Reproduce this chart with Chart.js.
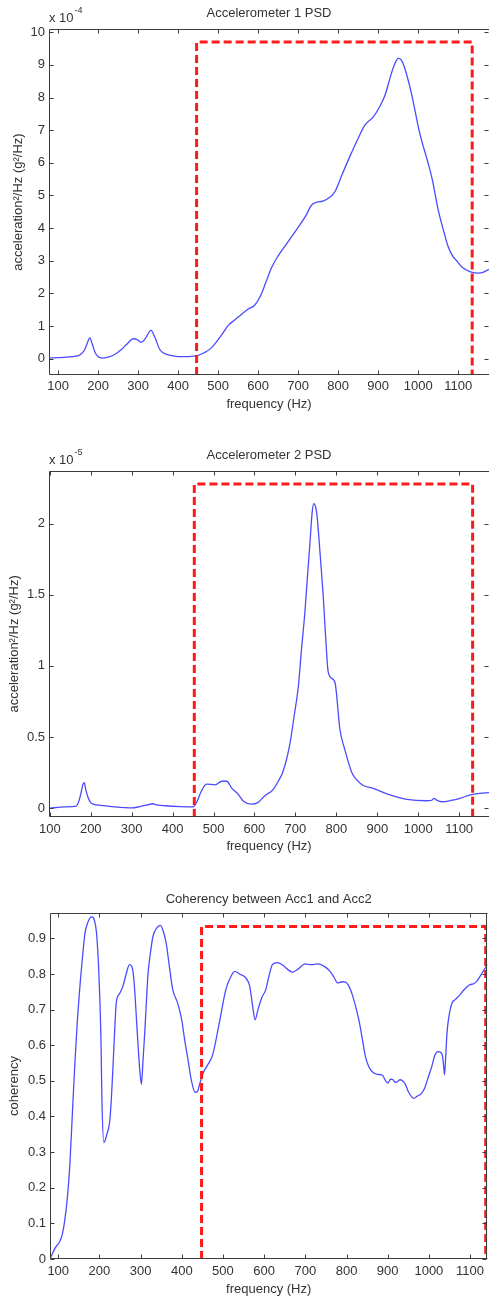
<!DOCTYPE html>
<html><head><meta charset="utf-8">
<script src="https://cdn.jsdelivr.net/npm/chart.js@4.4.1/dist/chart.umd.min.js"></script>
<style>
html,body{margin:0;padding:0;background:#fff;width:489px;height:1298px;overflow:hidden;}
canvas{position:absolute;left:0;}
</style></head><body>
<canvas id="c1" width="489" height="412" style="top:0px"></canvas>
<canvas id="c2" width="489" height="430" style="top:425px"></canvas>
<canvas id="c3" width="489" height="428" style="top:870px"></canvas>
<script>
// ---------- data ----------
const xTicks = [100,200,300,400,500,600,700,800,900,1000,1100];
const xLabel = 'frequency (Hz)';

const title1 = 'Accelerometer 1 PSD';
const yLabel1 = 'acceleration²/Hz (g²/Hz)';
const exp1 = ['x 10', '-4'];
const yTicks1 = [0,1,2,3,4,5,6,7,8,9,10];
const acc1Freq = [77,100,120,142,155,165,172,179,185,192,200,210,229,245,258,272,288,298,308,318,332,342,354,367,385,400,433,450,465,480,496,510,525,542,560,575,590,604,618,633,650,671,690,704,720,733,745,762,780,792,810,829,848,867,888,905,917,933,942,950,958,965,983,1004,1025,1035,1050,1065,1075,1086,1096,1110,1129,1150,1165,1177];
const acc1Psd = [0.02,0.03,0.05,0.07,0.12,0.25,0.45,0.64,0.45,0.2,0.06,0.02,0.06,0.16,0.28,0.45,0.61,0.58,0.5,0.62,0.87,0.65,0.28,0.15,0.09,0.06,0.07,0.1,0.18,0.3,0.52,0.75,1.02,1.19,1.38,1.52,1.62,1.88,2.3,2.78,3.15,3.52,3.85,4.1,4.4,4.7,4.79,4.83,4.95,5.12,5.65,6.19,6.7,7.16,7.41,7.75,8.07,8.74,9.05,9.2,9.15,8.95,8.13,6.9,5.98,5.5,4.56,3.85,3.43,3.15,3.0,2.8,2.67,2.62,2.66,2.74];
const box1X = [446,446,1135,1135];
const box1Y = [-0.5,9.7,9.7,-0.5];

const title2 = 'Accelerometer 2 PSD';
const yLabel2 = 'acceleration²/Hz (g²/Hz)';
const exp2 = ['x 10', '-5'];
const yTicks2 = [0,0.5,1,1.5,2];
const acc2Freq = [98,137,165,172,176,181,184,188,193,200,206,225,251,300,320,340,350,365,381,420,450,460,470,483,504,520,532,545,560,573,593,608,626,645,658,670,687,697,707,715,723,730,735,741,745,749,753,760,768,775,780,790,797,809,820,838,850,866,890,931,972,1021,1032,1039,1045,1058,1080,1102,1127,1150,1173];
const acc2Psd = [0.0,0.01,0.016,0.06,0.105,0.17,0.18,0.13,0.08,0.04,0.03,0.02,0.012,0.003,0.012,0.025,0.032,0.022,0.018,0.012,0.01,0.05,0.12,0.17,0.165,0.19,0.19,0.14,0.1,0.05,0.03,0.04,0.09,0.13,0.19,0.26,0.46,0.65,0.85,1.12,1.37,1.65,1.84,2.08,2.14,2.12,2.05,1.8,1.49,1.15,0.96,0.91,0.88,0.55,0.42,0.25,0.2,0.16,0.14,0.094,0.063,0.053,0.055,0.07,0.058,0.046,0.055,0.07,0.094,0.105,0.11];
const box2X = [453,453,1133,1133];
const box2Y = [-0.061,2.277,2.277,-0.061];

const title3 = 'Coherency between Acc1 and Acc2';
const yLabel3 = 'coherency';
const yTicks3 = [0,0.1,0.2,0.3,0.4,0.5,0.6,0.7,0.8,0.9];
const cohFreq = [80,92,104,110,116,122,128,134,140,146,153,160,165,172,181,188,193,198,201,204,206,211,218,225,229,233,237,241,249,257,265,273,279,284,292,298,302,306,310,314,318,324,330,340,348,355,362,370,378,390,400,407,415,423,432,438,443,451,463,475,491,507,518,529,540,556,565,572,578,585,595,604,613,620,632,645,660,669,684,699,715,730,745,758,770,778,790,798,806,814,830,838,846,854,862,875,886,895,901,907,913,918,923,930,936,943,950,963,972,982,990,999,1007,1015,1022,1028,1033,1036,1038,1041,1044,1050,1056,1064,1072,1085,1100,1108,1116,1128,1136,1142];
const cohVal = [0.0,0.03,0.05,0.07,0.11,0.17,0.26,0.4,0.54,0.66,0.77,0.86,0.915,0.945,0.96,0.95,0.915,0.82,0.73,0.6,0.45,0.327,0.35,0.386,0.45,0.54,0.64,0.72,0.745,0.765,0.8,0.826,0.82,0.78,0.634,0.53,0.49,0.56,0.634,0.72,0.8,0.86,0.905,0.93,0.936,0.92,0.887,0.82,0.756,0.718,0.67,0.615,0.56,0.503,0.468,0.47,0.489,0.52,0.545,0.573,0.662,0.756,0.79,0.807,0.8,0.788,0.765,0.71,0.671,0.7,0.735,0.756,0.8,0.826,0.832,0.825,0.81,0.805,0.815,0.828,0.826,0.828,0.822,0.81,0.79,0.775,0.778,0.777,0.765,0.742,0.671,0.62,0.568,0.54,0.526,0.518,0.517,0.5,0.494,0.505,0.503,0.496,0.497,0.503,0.5,0.49,0.47,0.451,0.457,0.465,0.48,0.512,0.54,0.573,0.582,0.58,0.57,0.54,0.517,0.57,0.634,0.69,0.718,0.728,0.737,0.755,0.77,0.772,0.779,0.8,0.815,0.826];
const box3X = [448,448,1138,1138];
const box3Y = [0,0.933,0.933,0];

// ---------- rendering ----------
Chart.defaults.font.family = '"Liberation Sans", Arial, sans-serif';
Chart.defaults.font.size = 13;
Chart.defaults.color = '#333';

const frameTicks = {
  id: 'frameTicks',
  afterDatasetsDraw(chart, args, opts) {
    const {ctx, chartArea: a, scales} = chart;
    const L = Math.round(a.left) + 0.5, R = Math.round(a.right) - 0.5;
    const T = Math.round(a.top) + 0.5, B = Math.round(a.bottom) - 0.5;
    ctx.save();
    ctx.strokeStyle = '#3c3c3c';
    ctx.lineWidth = 1;
    ctx.beginPath();
    ctx.moveTo(R + 1, T); ctx.lineTo(L, T); ctx.lineTo(L, B); ctx.lineTo(R + 1, B);
    if (opts.rightEdge) { ctx.moveTo(R, T); ctx.lineTo(R, B); }
    const tl = 4;
    scales.x.ticks.forEach(t => {
      const px = Math.round(scales.x.getPixelForValue(t.value)) + 0.5;
      ctx.moveTo(px, T); ctx.lineTo(px, T + tl);
      ctx.moveTo(px, B); ctx.lineTo(px, B - tl);
    });
    scales.y.ticks.forEach(t => {
      const py = Math.round(scales.y.getPixelForValue(t.value)) + 0.5;
      ctx.moveTo(L, py); ctx.lineTo(L + tl, py);
      ctx.moveTo(R, py); ctx.lineTo(R - tl, py);
    });
    ctx.stroke();
    if (opts.exp) {
      ctx.fillStyle = '#333';
      ctx.textBaseline = 'alphabetic';
      ctx.textAlign = 'left';
      ctx.font = '13px "Liberation Sans", Arial, sans-serif';
      const base = a.left;
      ctx.fillText(opts.exp[0], base, a.top - 7);
      const w = ctx.measureText(opts.exp[0]).width;
      ctx.font = '9px "Liberation Sans", Arial, sans-serif';
      ctx.fillText(opts.exp[1], base + w + 1, a.top - 16);
    }
    ctx.restore();
  }
};

function makeChart(id, cfg) {
  const pts = cfg.fx.map((f, i) => ({x: f, y: cfg.fy[i]}));
  const box = cfg.bx.map((f, i) => ({x: f, y: cfg.by[i]}));
  return new Chart(document.getElementById(id), {
    type: 'line',
    data: {
      datasets: [
        {data: box, borderColor: '#ff1a1a', borderWidth: 3, borderDash: [8, 4], pointRadius: 0, tension: 0, fill: false},
        {data: pts, borderColor: 'rgb(75,75,255)', borderWidth: 1.3, pointRadius: 0, cubicInterpolationMode: 'monotone', fill: false}
      ]
    },
    options: {
      responsive: false,
      animation: false,
      events: [],
      layout: {padding: 0},
      plugins: {
        legend: {display: false},
        tooltip: {enabled: false},
        title: {display: true, fullSize: false, text: cfg.title, color: '#333', font: {size: 13, weight: 'normal'}, padding: {top: cfg.tpt, bottom: cfg.tpb}},
        frameTicks: {exp: cfg.exp, rightEdge: cfg.rightEdge}
      },
      scales: {
        x: {
          type: 'linear', min: cfg.xmin, max: cfg.xmax,
          grid: {display: false, drawTicks: false},
          border: {display: false},
          afterBuildTicks: s => { s.ticks = xTicks.map(v => ({value: v})); },
          afterFit: s => { s.height = cfg.xh; },
          ticks: {autoSkip: false, maxRotation: 0, padding: cfg.xlp, callback: v => String(v)},
          title: {display: true, text: xLabel, color: '#333', font: {size: 13}, padding: {top: 0, bottom: cfg.xtb}}
        },
        y: {
          type: 'linear', min: cfg.ymin, max: cfg.ymax,
          grid: {display: false, drawTicks: false},
          border: {display: false},
          afterBuildTicks: s => { s.ticks = cfg.yt.map(v => ({value: v})); },
          afterFit: s => { s.width = cfg.yw; },
          ticks: {autoSkip: false, padding: 4, callback: v => String(v)},
          title: {display: true, text: cfg.ylabel, color: '#333', font: {size: 13}, padding: {top: cfg.ytp, bottom: 0}}
        }
      }
    },
    plugins: [frameTicks]
  });
}

makeChart('c1', {fx: acc1Freq, fy: acc1Psd, bx: box1X, by: box1Y, title: title1, ylabel: yLabel1, exp: exp1, yt: yTicks1, rightEdge: false,
  xmin: 77, xmax: 1177, ymin: -0.5, ymax: 10.1, tpt: 5.2, tpb: 8.2, xh: 37, xlp: 3.9, xtb: 0.2, yw: 49, ytp: 10.3});
makeChart('c2', {fx: acc2Freq, fy: acc2Psd, bx: box2X, by: box2Y, title: title2, ylabel: yLabel2, exp: exp2, yt: yTicks2, rightEdge: false,
  xmin: 98, xmax: 1173, ymin: -0.061, ymax: 2.371, tpt: 22.2, tpb: 7.9, xh: 38, xlp: 4.2, xtb: 0.5, yw: 49, ytp: 7});
makeChart('c3', {fx: cohFreq, fy: cohVal, bx: box3X, by: box3Y, title: title3, ylabel: yLabel3, exp: null, yt: yTicks3, rightEdge: true,
  xmin: 80, xmax: 1142, ymin: 0, ymax: 0.971, tpt: 21.5, tpb: 5.9, xh: 39, xlp: 4.9, xtb: 0.9, yw: 50, ytp: 6.5});
</script>
</body></html>
